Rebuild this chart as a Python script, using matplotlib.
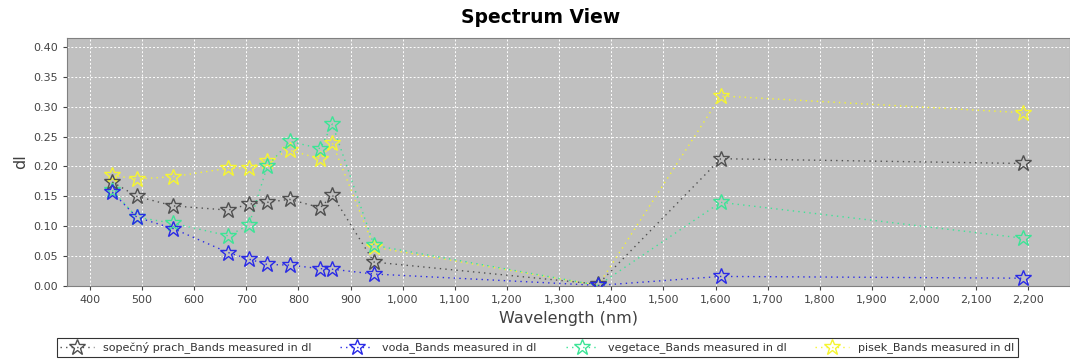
import matplotlib
matplotlib.use("Agg")
import matplotlib.pyplot as plt
from matplotlib.ticker import FuncFormatter, MultipleLocator

wavelengths = [443, 490, 560, 665, 705, 740, 783, 842, 865, 945, 1375, 1610, 2190]
sopecny_prach = [0.174, 0.150, 0.134, 0.127, 0.137, 0.140, 0.145, 0.131, 0.152, 0.040, 0.003, 0.213, 0.205]
voda = [0.157, 0.115, 0.096, 0.056, 0.045, 0.036, 0.035, 0.029, 0.028, 0.020, 0.001, 0.016, 0.013]
vegetace = [0.160, 0.115, 0.105, 0.084, 0.102, 0.200, 0.242, 0.230, 0.271, 0.068, 0.001, 0.140, 0.080]
pisek = [0.185, 0.179, 0.183, 0.197, 0.198, 0.210, 0.227, 0.213, 0.239, 0.065, 0.001, 0.318, 0.290]

series_names = ["sopečný prach_Bands measured in dl", "voda_Bands measured in dl",
                "vegetace_Bands measured in dl", "pisek_Bands measured in dl"]
series_values = [sopecny_prach, voda, vegetace, pisek]
series_colors = ["#505050", "#2a2ae6", "#3ce496", "#f5f531"]
series_z = [4, 5, 3, 2]

fig = plt.figure(figsize=(10.70, 3.62), dpi=100)
ax = fig.add_axes([0.0626, 0.21, 0.9374, 0.685])
ax.set_facecolor("#c0c0c0")

handles = []
for name, vals, col, z in zip(series_names, series_values, series_colors, series_z):
    h, = ax.plot(wavelengths, vals, linestyle=(0, (1, 3)), linewidth=1.0, color=col,
                 marker="*", markersize=12, markerfacecolor="none",
                 markeredgecolor=col, markeredgewidth=1.0, label=name, zorder=z)
    handles.append(h)

ax.set_xlim(356, 2280)
ax.set_ylim(0, 0.415)
ax.xaxis.set_major_locator(MultipleLocator(100))
ax.yaxis.set_major_locator(MultipleLocator(0.05))
ax.xaxis.set_major_formatter(FuncFormatter(lambda v, p: f"{int(v):,}"))
ax.yaxis.set_major_formatter(FuncFormatter(lambda v, p: f"{v:.2f}"))
ax.grid(True, color="white", linestyle=(0, (2, 2)), linewidth=0.7)
ax.set_axisbelow(True)
ax.tick_params(labelsize=8, colors="#444444", length=3)
for t in ax.get_xticklabels() + ax.get_yticklabels():
    t.set_color("#444444")
for s in ax.spines.values():
    s.set_color("#808080")

ax.set_xlabel("Wavelength (nm)", fontsize=11.5, color="#404040", labelpad=4)
ax.set_ylabel("dl", fontsize=11.5, color="#404040", labelpad=4)

fig.text(0.505, 0.952, "Spectrum View", ha="center", va="center",
         fontsize=13.5, fontweight="bold", color="black")

leg = fig.legend(handles=handles, loc="center", bbox_to_anchor=(0.502, 0.04), ncol=4,
                 fontsize=8, frameon=True, fancybox=False, edgecolor="black",
                 handlelength=3, columnspacing=2.6, borderpad=0.35, handletextpad=0.8)
leg.get_frame().set_linewidth(0.8)
for t in leg.get_texts():
    t.set_color("#333333")

fig.savefig("out.png", dpi=100, facecolor="white")
